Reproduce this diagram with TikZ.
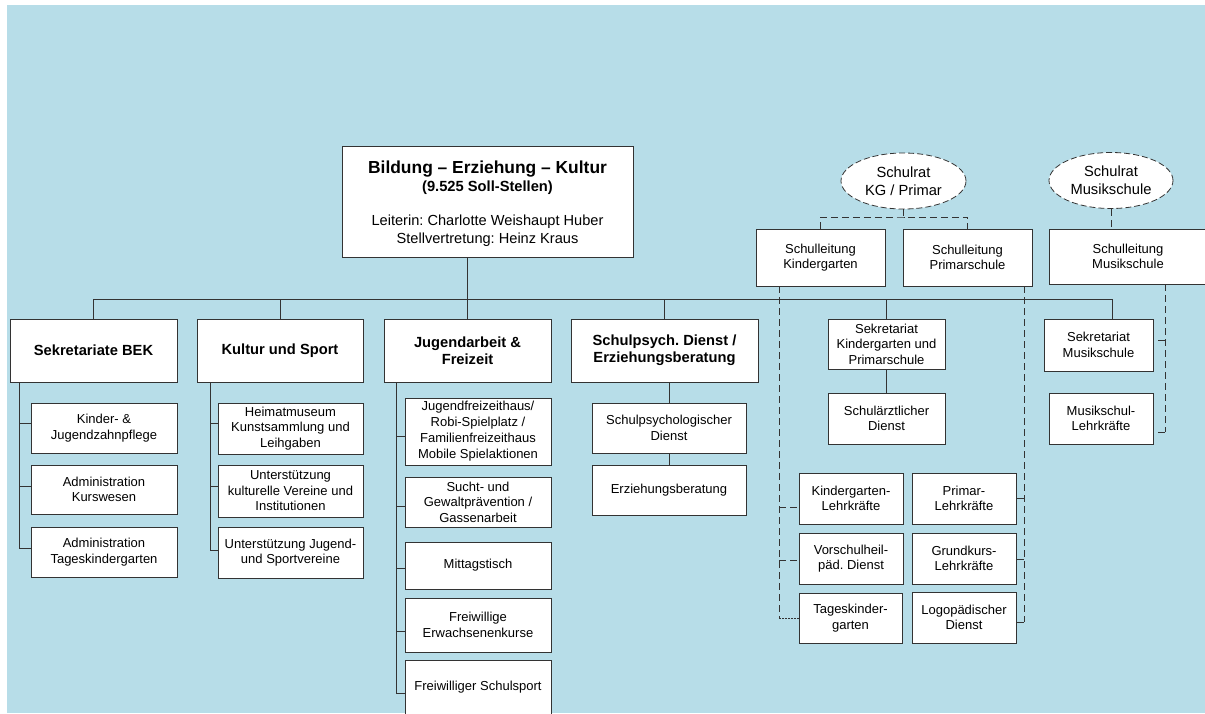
\documentclass[tikz,border=0pt]{standalone}
\usepackage{fontspec}
\setmainfont{Liberation Sans}
\usetikzlibrary{shapes.geometric}
\definecolor{pagebg}{HTML}{B7DDE8}
\definecolor{edge}{HTML}{333333}
\frenchspacing
\tikzset{
  orgbox/.style={draw=edge, fill=white, line width=0.8pt, inner sep=1pt, align=center,
    font=\fontsize{13}{15.5}\selectfont},
  headbox/.style={orgbox, font=\fontsize{14.7}{17}\selectfont\bfseries},
  council/.style={ellipse, draw=edge, fill=white, line width=0.8pt, dash pattern=on 6pt off 3pt,
    inner sep=0pt, align=center, font=\fontsize{14.7}{18}\selectfont},
  wire/.style={draw=edge, line width=0.9pt},
  dwire/.style={wire, dash pattern=on 7pt off 4pt},
  fwire/.style={wire, line width=0.7pt, dash pattern=on 2pt off 1pt},
}
\begin{document}
\begin{tikzpicture}[x=1pt,y=-1pt]
\useasboundingbox (0,0) rectangle (1205,713);
\fill[pagebg] (7,5) rectangle (1205,713);

% department head
\node[orgbox, minimum width=291pt, minimum height=111pt, font=\fontsize{14.6}{18}\selectfont] (main) at (487.5,201.5)
  {\rule{0pt}{17pt}{\fontsize{17.4}{18}\selectfont\bfseries Bildung – Erziehung – Kultur}\\
   {\fontsize{14.7}{18}\selectfont\bfseries (9.525 Soll-Stellen)}\\[16pt]
   Leiterin: Charlotte Weishaupt Huber\\
   Stellvertretung: Heinz Kraus};

% column 1
\node[headbox, minimum width=167pt, minimum height=63pt] (c1h) at (93.5,350.5) {Sekretariate BEK};
\node[orgbox, minimum width=146pt, minimum height=50pt] (c1a) at (104,428) {Kinder- \&\\Jugendzahnpflege};
\node[orgbox, minimum width=146pt, minimum height=49pt] (c1b) at (104,489.5) {Administration\\Kurswesen};
\node[orgbox, minimum width=146pt, minimum height=50pt] (c1c) at (104,552) {Administration\\Tageskindergarten};

% column 2
\node[headbox, minimum width=166pt, minimum height=63pt] (c2h) at (280,350.5) {Kultur und Sport};
\node[orgbox, minimum width=145pt, minimum height=51pt] (c2a) at (290.5,428.5) {Heimatmuseum\\Kunstsammlung und\\Leihgaben};
\node[orgbox, minimum width=145pt, minimum height=52pt] (c2b) at (290.5,491) {Unterstützung\\kulturelle Vereine und\\Institutionen};
\node[orgbox, minimum width=145pt, minimum height=51pt] (c2c) at (290.5,552.5) {Unterstützung Jugend-\\und Sportvereine};

% column 3
\node[headbox, minimum width=167pt, minimum height=63pt] (c3h) at (467.5,350.5) {Jugendarbeit \&\\Freizeit};
\node[orgbox, minimum width=146pt, minimum height=67pt, font=\fontsize{13}{16}\selectfont] (c3a) at (478,431.5) {Jugendfreizeithaus/\\Robi-Spielplatz /\\Familienfreizeithaus\\Mobile Spielaktionen};
\node[orgbox, minimum width=146pt, minimum height=50pt] (c3b) at (478,502) {Sucht- und\\Gewaltprävention /\\Gassenarbeit};
\node[orgbox, minimum width=146pt, minimum height=47pt] (c3c) at (478,565.5) {Mittagstisch};
\node[orgbox, minimum width=146pt, minimum height=54pt] (c3d) at (478,625) {Freiwillige\\Erwachsenenkurse};
\node[orgbox, minimum width=146pt, minimum height=54pt] (c3e) at (478,687) {Freiwilliger Schulsport};

% column 4
\node[headbox, minimum width=187pt, minimum height=63pt] (c4h) at (664.5,350.5) {Schulpsych. Dienst /\\Erziehungsberatung};
\node[orgbox, minimum width=154pt, minimum height=50pt] (c4a) at (669,428) {Schulpsychologischer\\Dienst};
\node[orgbox, minimum width=154pt, minimum height=50pt] (c4b) at (669,490) {Erziehungsberatung};

% school councils and school management
\node[council, minimum width=125pt, minimum height=56pt] (elKG) at (903.5,181) {Schulrat\\KG / Primar};
\node[council, minimum width=124pt, minimum height=56pt] (elMS) at (1111,180.5) {Schulrat\\Musikschule};
\node[orgbox, minimum width=129pt, minimum height=57pt] (slKG) at (820.5,257.5) {Schulleitung\\Kindergarten};
\node[orgbox, minimum width=129pt, minimum height=57pt] (slPS) at (967.5,257.5) {Schulleitung\\Primarschule};
\node[orgbox, minimum width=158pt, minimum height=55pt] (slMS) at (1128,256.5) {Schulleitung\\Musikschule};

% secretariats and services
\node[orgbox, minimum width=117pt, minimum height=50pt] (sekKP) at (886.5,344) {Sekretariat\\Kindergarten und\\Primarschule};
\node[orgbox, minimum width=117pt, minimum height=51pt] (sad) at (886.5,418.5) {Schulärztlicher\\Dienst};
\node[orgbox, minimum width=109pt, minimum height=52pt] (sekMS) at (1098.5,345) {Sekretariat\\Musikschule};
\node[orgbox, minimum width=104pt, minimum height=51pt] (lkMS) at (1101,418.5) {Musikschul-\\Lehrkräfte};

% teaching staff
\node[orgbox, minimum width=104pt, minimum height=51pt] (lkKG) at (851,498.5) {Kindergarten-\\Lehrkräfte};
\node[orgbox, minimum width=104pt, minimum height=51pt] (vhd) at (851,558.5) {Vorschulheil-\\päd. Dienst};
\node[orgbox, minimum width=103pt, minimum height=50pt] (tkg) at (850.5,618) {Tageskinder-\\garten};
\node[orgbox, minimum width=104pt, minimum height=51pt] (lkPS) at (964,498.5) {Primar-\\Lehrkräfte};
\node[orgbox, minimum width=104pt, minimum height=51pt] (lkGK) at (964,558.5) {Grundkurs-\\Lehrkräfte};
\node[orgbox, minimum width=104pt, minimum height=51pt] (logo) at (964,617.5) {Logopädischer\\Dienst};

% main bus
\coordinate (busL) at (93.5,299);
\coordinate (busR) at (1112,299);
\draw[wire] (main.south -| c3h.north) -- (c3h.north);
\draw[wire] (c1h.north) -- (c1h.north |- busL) -- (busR) -- (busR |- sekMS.north);
\draw[wire] (c2h.north |- busL) -- (c2h.north);
\draw[wire] (c4h.north |- busL) -- (c4h.north);
\draw[wire] (sekKP.north |- busL) -- (sekKP.north);
\draw[wire] (sekKP.south) -- (sad.north);

% column trees
\draw[wire] (c1h.south -| 19,0) |- (c1c.west |- 0,548);
\draw[wire] (19,423) -- (c1a.west |- 0,423);
\draw[wire] (19,486) -- (c1b.west |- 0,486);

\draw[wire] (c2h.south -| 210,0) |- (c2c.west |- 0,550);
\draw[wire] (210,423) -- (c2a.west |- 0,423);
\draw[wire] (210,486) -- (c2b.west |- 0,486);

\draw[wire] (c3h.south -| 396,0) |- (c3e.west |- 0,693);
\draw[wire] (396,436) -- (c3a.west |- 0,436);
\draw[wire] (396,506) -- (c3b.west |- 0,506);
\draw[wire] (396,568) -- (c3c.west |- 0,568);
\draw[wire] (396,631) -- (c3d.west |- 0,631);

\draw[wire] (c4h.south -| c4a.north) -- (c4a.north);
\draw[wire] (c4a.south) -- (c4b.north);

% supervision links
\coordinate (kgj) at (903.5,217);
\draw[dwire] (elKG.south) -- (kgj);
\draw[dwire] (slKG.north) |- (kgj) -| (slPS.north);
\draw[dwire] (elMS.south) -- (elMS.south |- slMS.north);

\draw[dwire] (slKG.south -| 779,0) -- (779,618);
\draw[fwire] (779,618) -- (tkg.west);
\draw[dwire] (779,507) -- (lkKG.west |- 0,507);
\draw[dwire] (779,560) -- (vhd.west |- 0,560);

\draw[dwire] (slPS.south -| 1024,0) -- (1024,622);
\draw[wire] (1024,622) -- (logo.east |- 0,622);
\draw[wire] (1024,498) -- (lkPS.east |- 0,498);
\draw[wire] (1024,559) -- (lkGK.east |- 0,559);

\draw[dwire] (slMS.south -| 1165,0) -- (1165,432);
\draw[wire] (1165,432) -- (1158,432);
\draw[wire] (1165,340) -- (1158,340);
\end{tikzpicture}
\end{document}
